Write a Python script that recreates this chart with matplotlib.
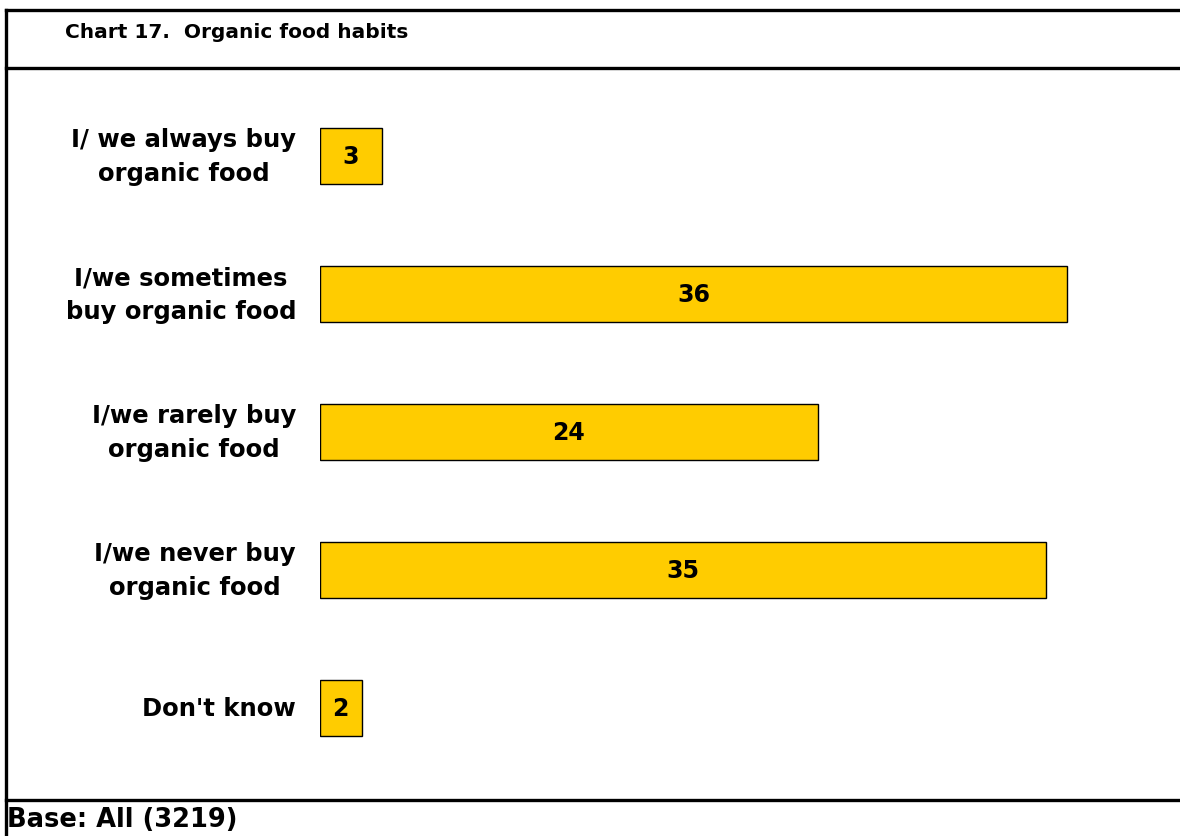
import matplotlib
matplotlib.use('Agg')
import matplotlib.pyplot as plt
from matplotlib.lines import Line2D

# Du lieu bieu do
categories = ['I/ we always buy\norganic food',
              'I/we sometimes\nbuy organic food',
              'I/we rarely buy\norganic food',
              'I/we never buy\norganic food',
              "Don't know"]
values = [3, 36, 24, 35, 2]
title = 'Chart 17.  Organic food habits'
base_note = 'Base: All (3219)'

W, H = 1180, 837
fig = plt.figure(figsize=(W / 100, H / 100), dpi=100)
plt.rcParams['font.family'] = ['DejaVu Sans']

# Truc ve cot: toa do pixel -> figure
x0, y_top, y_bot = 320, 88, 778
ax = fig.add_axes([x0 / W, 1 - y_bot / H, (W - x0) / W, (y_bot - y_top) / H])
px_per_unit = 20.75
ax.set_xlim(0, (W - x0) / px_per_unit)
ax.set_ylim(len(values) - 0.5, -0.5)
ax.axis('off')

pos = range(len(values))
ax.barh(pos, values, height=0.405, color='#FFCC00', edgecolor='black', linewidth=1)

for i, v in enumerate(values):
    ax.text(v / 2, i, str(v), ha='center', va='center',
            fontsize=17, fontweight='bold', color='black')
    ax.text(-24 / px_per_unit, i, categories[i], ha='right', va='center',
            multialignment='center', fontsize=17.5, fontweight='bold',
            linespacing=1.5, color='black')

# Khung va duong ke
lw = 2.4
def hline(y, xa=6, xb=W):
    fig.add_artist(Line2D([xa / W, xb / W], [1 - y / H, 1 - y / H],
                          color='black', linewidth=lw))

hline(11)
hline(69)
hline(801)
fig.add_artist(Line2D([6 / W, 6 / W], [1 - 11 / H, 0], color='black', linewidth=lw))

fig.text(65 / W, 1 - 32 / H, title, ha='left', va='center',
         fontsize=14.5, fontweight='bold')
fig.text(7 / W, 1 - 820 / H, base_note, ha='left', va='center',
         fontsize=18.5, fontweight='bold')

fig.savefig('out.png', dpi=100)
